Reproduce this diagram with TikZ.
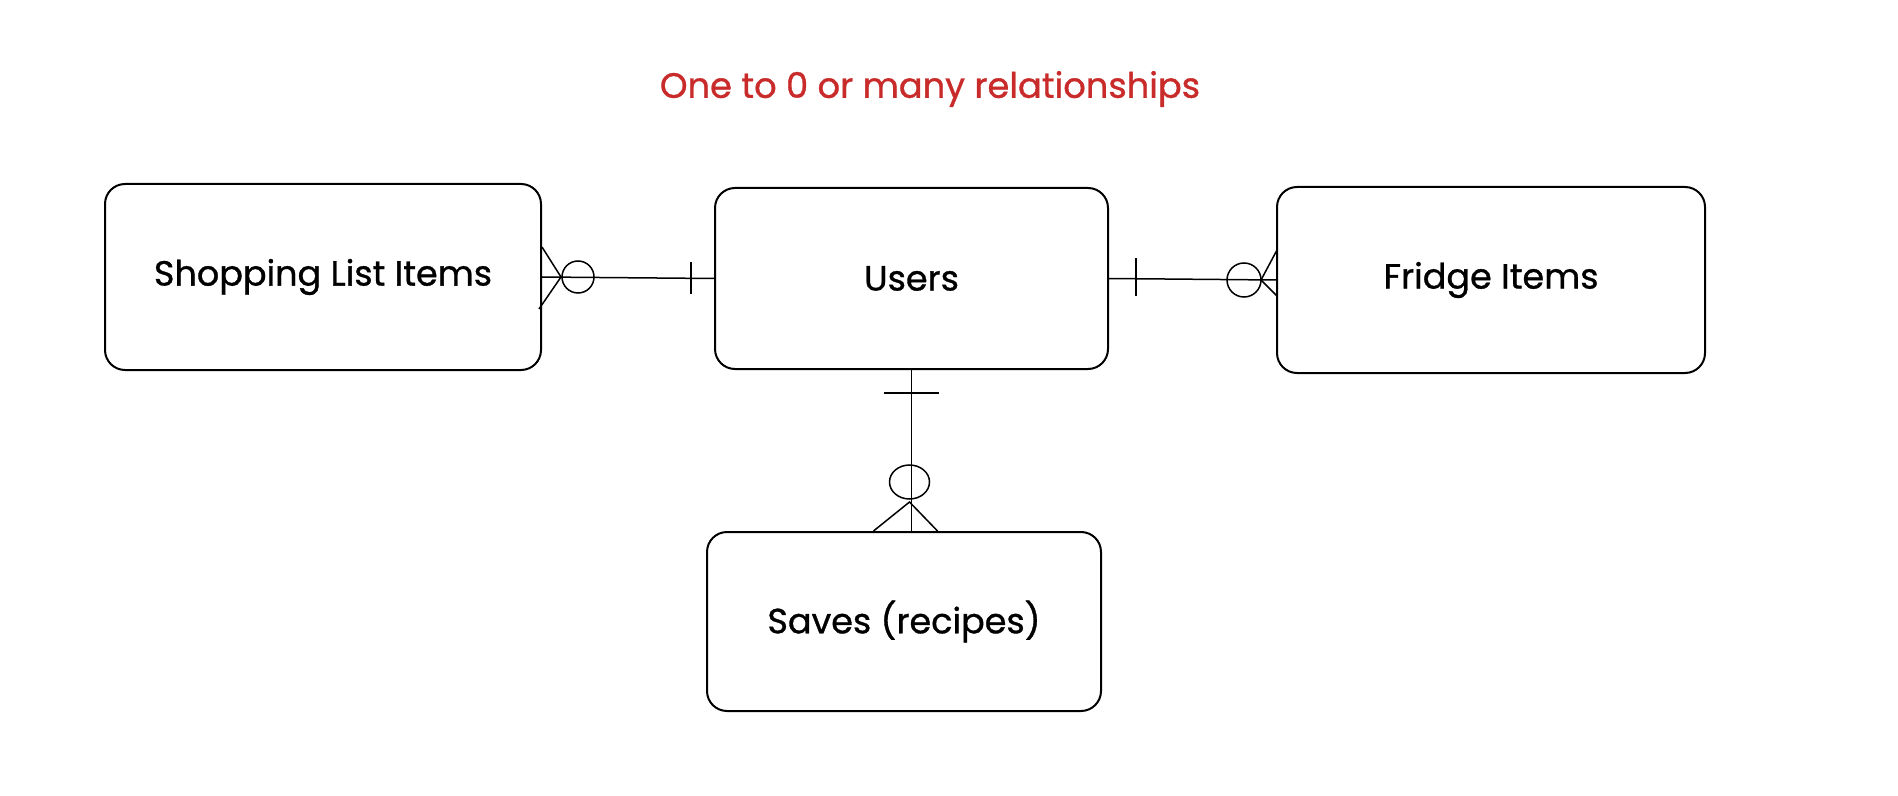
\documentclass[tikz,border=0pt]{standalone}
\usepackage{fontspec}
\setmainfont{Poppins}
\newfontfamily\heavyfont{Poppins}[FakeBold=0.9]
\usetikzlibrary{calc}
\definecolor{titlered}{HTML}{C92A2A}
\tikzset{
  entity/.style={draw=black, line width=1pt, rounded corners=10pt, fill=white,
    font=\heavyfont\fontsize{17.5}{21}\selectfont, inner sep=0pt},
  conn/.style={draw=black, line width=0.75pt},
}
\begin{document}
\begin{tikzpicture}[x=0.5pt,y=-0.5pt]
\useasboundingbox[fill=white] (0,0) rectangle (1898,796);
\node[font=\heavyfont\fontsize{17.6}{21}\selectfont, text=titlered] (title) at (930,89) {One to 0 or many relationships};
\node[entity, minimum width=218pt, minimum height=93pt] (shop) at (323,277) {Shopping List Items};
\node[entity, minimum width=196.5pt, minimum height=90.5pt] (users) at (911.5,278.5) {Users};
\node[entity, minimum width=214pt, minimum height=93pt] (fridge) at (1491,280) {Fridge Items};
\node[entity, minimum width=197pt, minimum height=89.5pt] (saves) at (904,621.5) {Saves (recipes)};
% connectors
\draw[conn] (shop.east) -- (users.west);
\draw[conn] (users.east) -- (fridge.west);
\draw[conn] (users.south) -- (users.south |- saves.north);
% left: crow's foot + circle at shop, bar at users
\coordinate (la) at ($(shop.east)+(19,0)$);
\draw[conn] ($(shop.east)+(0,-30)$) -- (la) -- ($(shop.east)+(-3,32)$);
\draw[conn] ($(la)+(17,0)$) circle[radius=8pt];
\draw[conn] ($(users.west)+(-23,-16)$) -- ($(users.west)+(-23,16)$);
% right: bar at users, circle + crow's foot at fridge
\coordinate (ra) at ($(fridge.west)+(-15,0)$);
\draw[conn] ($(fridge.west)+(1,-30)$) -- (ra) -- ($(fridge.west)+(1,16)$);
\draw[conn] ($(ra)+(-17,0)$) circle[radius=8.5pt];
\draw[conn] ($(users.east)+(27,-20)$) -- ($(users.east)+(27,18)$);
% vertical: bar at users, circle + crow's foot at saves
\coordinate (vs) at (users.south |- saves.north);
\coordinate (va) at ($(vs)+(-2,-29)$);
\draw[conn] ($(vs)+(-38,0)$) -- (va) -- ($(vs)+(26,0)$);
\draw[conn] ($(va)+(0,-20)$) ellipse[x radius=10pt, y radius=8.5pt];
\draw[conn] ($(users.south)+(-28,23)$) -- ($(users.south)+(27,23)$);
\end{tikzpicture}
\end{document}
